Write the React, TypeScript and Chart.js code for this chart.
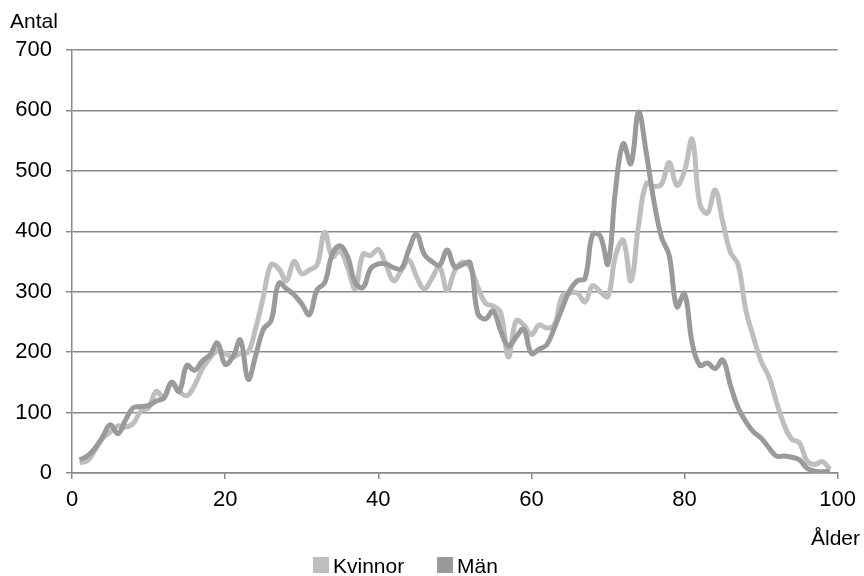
import React, { useEffect, useRef } from "react";
import { Chart, registerables } from "chart.js";
Chart.register(...registerables);

const ages: number[] = Array.from({ length: 99 }, (_, i) => i + 1);

const kvinnor: number[] = [
  17, 20, 38, 57, 68, 78, 76, 82, 103, 108,
  135, 125, 150, 135, 128, 145, 172, 190, 202, 198,
  192, 198, 200, 240, 292, 345, 338, 318, 350, 330,
  336, 344, 398, 358, 368, 340, 305, 362, 360, 370,
  345, 318, 335, 352, 325, 305, 322, 341, 302, 335,
  349, 340, 308, 281, 276, 265, 192, 252, 245, 229,
  245, 240, 245, 292, 298, 298, 283, 310, 300, 292,
  360, 385, 318, 410, 479, 474, 478, 514, 476, 500,
  552, 445, 430, 468, 415, 365, 345, 270, 225, 185,
  160, 118, 80, 56, 50, 20, 14, 19, 6,
];

const man: number[] = [
  22, 28, 41, 60, 80, 65, 88, 108, 110, 112,
  119, 124, 150, 135, 178, 170, 185, 195, 215, 180,
  192, 220, 155, 195, 238, 252, 314, 305, 295, 280,
  262, 303, 315, 362, 376, 358, 315, 307, 338, 346,
  346, 340, 338, 370, 395, 362, 350, 344, 369, 341,
  345, 348, 264, 255, 268, 235, 210, 225, 238, 198,
  205, 212, 240, 272, 302, 318, 322, 395, 392, 346,
  470, 545, 512, 597, 530, 450, 390, 360, 275, 297,
  215, 178, 182, 173, 187, 145, 108, 85, 68, 58,
  42, 28, 28, 26, 22, 8, 3, 2, 3,
];

const seriesNames = ["Kvinnor", "Män"];
const seriesColors = ["#bebebe", "#9a9a9a"];
const yTitle = "Antal";
const xTitle = "Ålder";

const FONT = "'Liberation Sans', Arial, sans-serif";
const GRID = "#8a8a8a";

export default function App() {
  const ref = useRef<HTMLCanvasElement>(null);
  useEffect(() => {
    const textPlugin = {
      id: "extraText",
      afterDraw(chart: any) {
        const ctx = chart.ctx;
        ctx.save();
        ctx.fillStyle = "#000";
        ctx.font = `21px ${FONT}`;
        ctx.textBaseline = "alphabetic";
        ctx.textAlign = "left";
        ctx.fillText(yTitle, 10, 28);
        ctx.textAlign = "right";
        ctx.fillText(xTitle, 860, 545);
        // legend
        ctx.textAlign = "left";
        const items = [
          { x: 313, label: seriesNames[0], color: seriesColors[0] },
          { x: 437, label: seriesNames[1], color: seriesColors[1] },
        ];
        items.forEach((it) => {
          ctx.fillStyle = it.color;
          ctx.fillRect(it.x, 557, 16, 16);
          ctx.fillStyle = "#000";
          ctx.fillText(it.label, it.x + 20, 573);
        });
        ctx.restore();
      },
    };
    const chart = new Chart(ref.current as HTMLCanvasElement, {
      type: "line",
      data: {
        datasets: [
          {
            label: seriesNames[0],
            data: ages.map((a, i) => ({ x: a, y: kvinnor[i] })),
            borderColor: seriesColors[0],
            backgroundColor: seriesColors[0],
            borderWidth: 5,
            pointRadius: 0,
            tension: 0.4,
            fill: false,
            order: 1,
          },
          {
            label: seriesNames[1],
            data: ages.map((a, i) => ({ x: a, y: man[i] })),
            borderColor: seriesColors[1],
            backgroundColor: seriesColors[1],
            borderWidth: 5,
            pointRadius: 0,
            tension: 0.4,
            fill: false,
            order: 0,
          },
        ],
      },
      options: {
        responsive: false,
        animation: false,
        layout: { padding: { top: 50, right: 21, left: 0, bottom: 0 } },
        plugins: { legend: { display: false }, tooltip: { enabled: false } },
        scales: {
          x: {
            type: "linear",
            min: 0,
            max: 100,
            ticks: {
              stepSize: 20,
              color: "#000",
              font: { size: 22, family: FONT },
              padding: 8,
              maxRotation: 0,
            },
            grid: {
              drawOnChartArea: false,
              drawTicks: true,
              tickLength: 6,
              color: GRID,
              lineWidth: 1.5,
            },
            border: { color: GRID, width: 1.5 },
            afterFit: (s: any) => {
              s.height = 103;
            },
          },
          y: {
            min: 0,
            max: 700,
            ticks: {
              stepSize: 100,
              color: "#000",
              font: { size: 22, family: FONT },
              padding: 14,
            },
            grid: { color: GRID, lineWidth: 1.5, tickLength: 6 },
            border: { color: GRID, width: 1.5 },
            afterFit: (s: any) => {
              s.width = 72;
            },
          },
        },
      } as any,
      plugins: [textPlugin],
    });
    return () => chart.destroy();
  }, []);
  return (
    <div style={{ position: "absolute", left: 0, top: 0, width: 864, height: 576 }}>
      <canvas ref={ref} width={864} height={576} style={{ display: "block" }} />
    </div>
  );
}
